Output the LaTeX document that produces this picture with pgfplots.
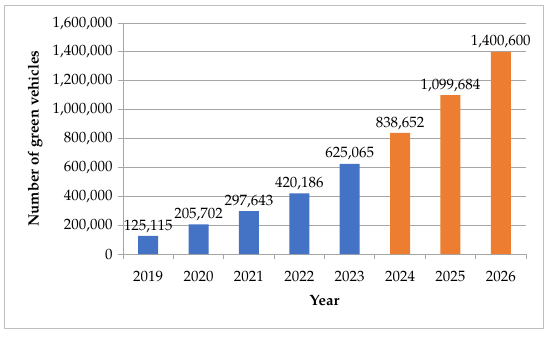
\documentclass[border=0pt]{standalone}
\usepackage{fontspec}
\setmainfont{TeX Gyre Pagella}
\usepackage{pgfplots}
\pgfplotsset{compat=1.18}
\definecolor{cblue}{HTML}{4472C4}
\definecolor{corange}{HTML}{ED7D31}
\definecolor{gridc}{HTML}{A6A6A6}
\definecolor{framec}{HTML}{BFBFBF}
\begin{document}
\begin{tikzpicture}[x=1bp,y=1bp]
\path (0,0) rectangle (550,338);
\draw[framec, line width=0.8bp] (4,10) rectangle (543,333);
\begin{axis}[
  at={(123bp,84bp)}, anchor=south west,
  scale only axis, width=403bp, height=231bp,
  xmin=-0.5, xmax=7.5, ymin=0, ymax=1600000,
  axis x line*=bottom, axis y line*=left,
  axis line style={gridc, line width=0.8bp},
  ybar, bar width=20bp, bar shift=0pt,
  xtick={0,...,7},
  xticklabels={2019,2020,2021,2022,2023,2024,2025,2026},
  major x tick style={draw=none},
  minor xtick={-0.5,0.5,1.5,2.5,3.5,4.5,5.5,6.5,7.5},
  minor tick length=5bp,
  minor x tick style={gridc, line width=0.8bp},
  ytick={0,200000,...,1600000},
  major tick length=5bp,
  major y tick style={gridc, line width=0.8bp},
  tick align=outside,
  ymajorgrids,
  grid style={gridc, line width=0.8bp},
  scaled y ticks=false,
  /pgf/number format/.cd, fixed, 1000 sep={,}, assume math mode=true,
  /pgfplots/.cd,
  ticklabel style={font=\fontsize{15}{17}\selectfont, text=black},
  xticklabel style={yshift=-9bp},
  yticklabel style={xshift=-2bp},
  xlabel={\textbf{Year}},
  ylabel={\textbf{Number of green vehicles}},
  label style={font=\fontsize{15}{17}\selectfont},
  xlabel style={at={(axis description cs:0.5,-0.199)}, anchor=center},
  ylabel style={at={(axis description cs:-0.218,0.5)}, anchor=center, rotate=0},
  nodes near coords,
  nodes near coords style={font=\fontsize{15}{17}\selectfont, text=black,
    /pgf/number format/.cd, fixed, 1000 sep={,}, assume math mode=true},
]
\addplot[fill=cblue, draw=none] coordinates {(0,125115) (1,205702) (2,297643) (3,420186) (4,625065)};
\addplot[fill=corange, draw=none] coordinates {(5,838652) (6,1099684) (7,1400600)};
\end{axis}
\end{tikzpicture}
\end{document}
